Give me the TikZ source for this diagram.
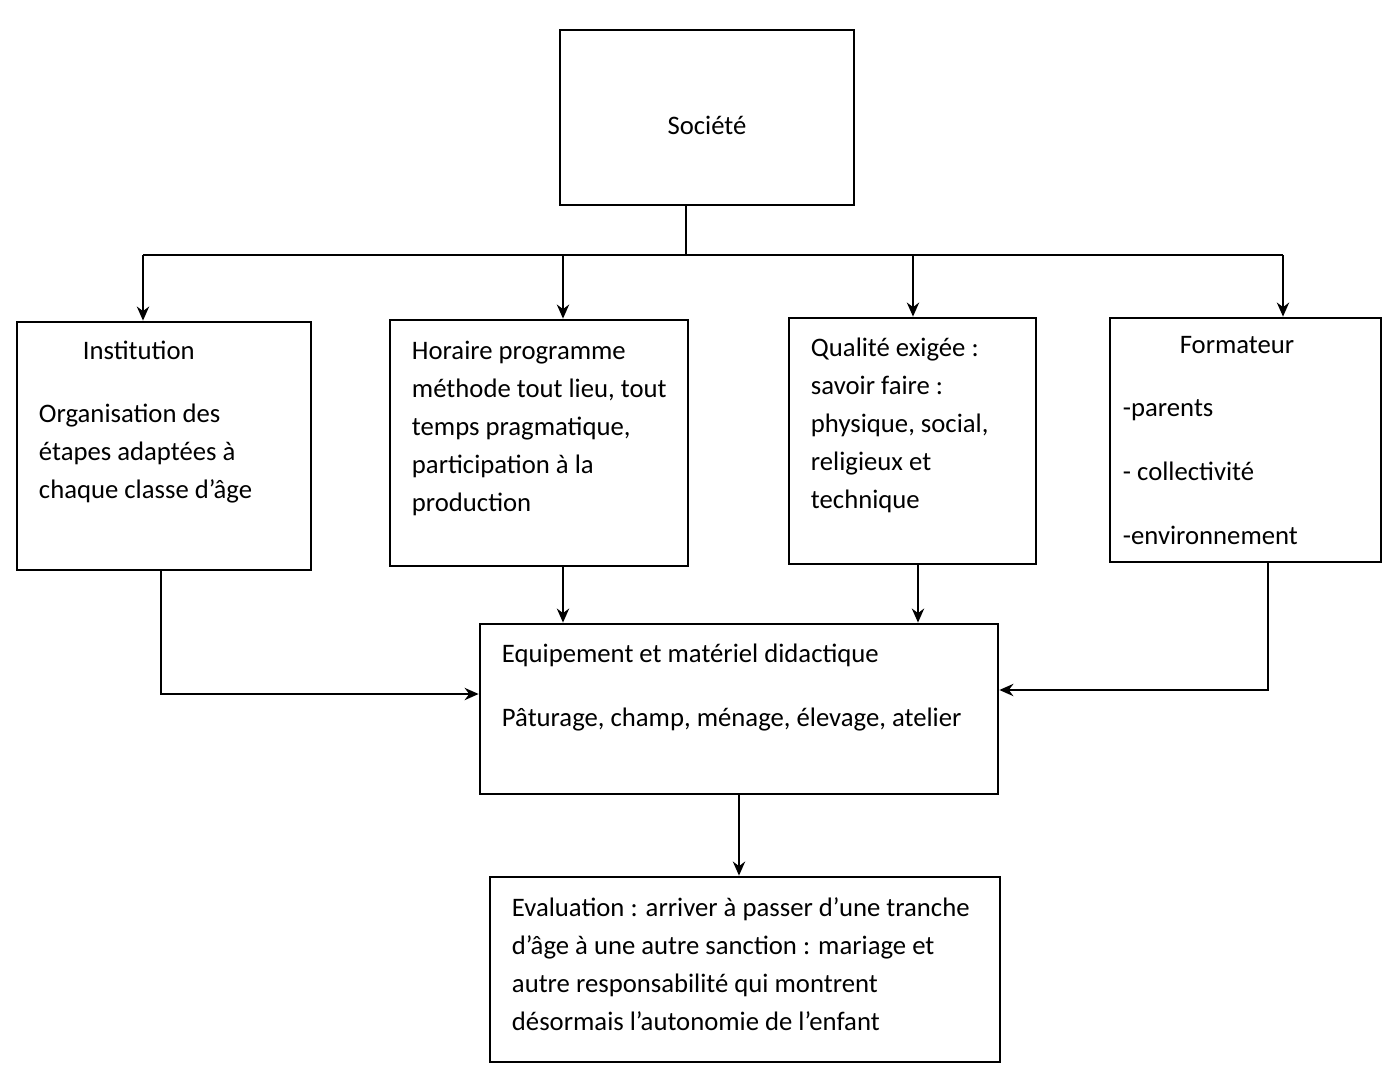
\documentclass[tikz,border=0pt]{standalone}
\usepackage{fontspec}
\setmainfont{Carlito}
\usetikzlibrary{arrows.meta}

\begin{document}
\begin{tikzpicture}[x=0.02cm,y=-0.02cm,>={Stealth[length=8pt,width=7pt]},line width=1.1pt,
  box/.style={draw,line width=1.6pt,inner sep=0pt},
  txt/.style={anchor=north west,inner sep=0pt,align=left,font=\fontsize{15.2pt}{21.6pt}\selectfont}]
  \useasboundingbox (0,0) rectangle (1383,1068);
  % boxes
  \node[box,minimum width=5.88cm,minimum height=3.5cm] (soc) at (707,117.5) {};
  \node[box,minimum width=5.88cm,minimum height=4.96cm] (inst) at (164,446) {};
  \node[box,minimum width=5.96cm,minimum height=4.92cm] (hor) at (539,443) {};
  \node[box,minimum width=4.94cm,minimum height=4.92cm] (qual) at (912.5,441) {};
  \node[box,minimum width=5.42cm,minimum height=4.88cm] (form) at (1245.5,440) {};
  \node[box,minimum width=10.36cm,minimum height=3.4cm] (equip) at (739,709) {};
  \node[box,minimum width=10.2cm,minimum height=3.7cm] (eval) at (745,969.5) {};
  % texts
  \node[txt,anchor=north] (socT) at (707,115) {Société};
  \node[txt] (instH) at (82,340) {Institution};
  \node[txt] (instB) at (38,403) {Organisation des\\étapes adaptées à\\chaque classe d’âge};
  \node[txt] (horB) at (411,340) {Horaire programme\\méthode tout lieu, tout\\temps pragmatique,\\participation à la\\production};
  \node[txt] (qualB) at (810,337) {Qualité exigée :\\savoir faire :\\physique, social,\\religieux et\\technique};
  \node[txt,anchor=north] (formH) at (1237,335) {Formateur};
  \node[txt] (formB) at (1122,399) {-parents\\[0.52cm]- collectivité\\[0.52cm]-environnement};
  \node[txt] (equipB) at (501,643) {Equipement et matériel didactique\\[0.52cm]Pâturage, champ, ménage, élevage, atelier};
  \node[txt] (evalB) at (511,897) {Evaluation : arriver à passer d’une tranche\\d’âge à une autre sanction : mariage et\\autre responsabilité qui montrent\\désormais l’autonomie de l’enfant};
  % top connectors
  \coordinate (split) at (686,255);
  \coordinate (t1) at (143,255);
  \coordinate (t2) at (563,255);
  \coordinate (t3) at (913,255);
  \coordinate (t4) at (1283,255);
  \draw (soc.south -| split) -- (split);
  \draw (t1) -- (t4);
  \foreach \t/\b in {t1/inst,t2/hor,t3/qual,t4/form}
    \draw[->] (\t) -- (\t |- \b.north);
  % bottom connectors
  \coordinate (b1) at (161,694);
  \coordinate (b3) at (918,600);
  \coordinate (b4) at (1268,690);
  \draw[->] (b1 |- inst.south) -- (b1) -- (equip.west |- b1);
  \draw[->] (t2 |- hor.south) -- (t2 |- equip.north);
  \draw[->] (b3 |- qual.south) -- (b3 |- equip.north);
  \draw[->] (b4 |- form.south) -- (b4) -- (equip.east |- b4);
  \draw[->] (equip.south) -- (equip.south |- eval.north);
\end{tikzpicture}
\end{document}
